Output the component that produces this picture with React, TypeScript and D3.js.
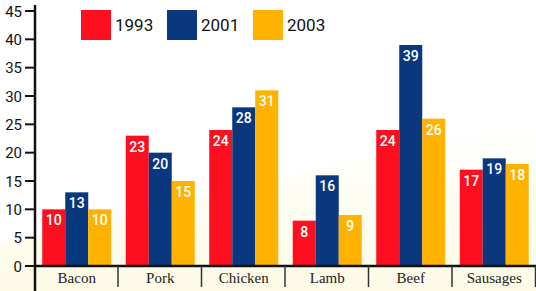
import React, { useEffect, useRef } from 'react';
import * as d3 from 'd3';

const categories = ['Bacon', 'Pork', 'Chicken', 'Lamb', 'Beef', 'Sausages'];
const seriesNames = ['1993', '2001', '2003'];
const values1993 = [10, 23, 24, 8, 24, 17];
const values2001 = [13, 20, 28, 16, 39, 19];
const values2003 = [10, 15, 31, 9, 26, 18];
const yTicks = [0, 5, 10, 15, 20, 25, 30, 35, 40, 45];
const colors = ['#fd0f20', '#0a387e', '#ffb300'];

const App = () => {
  const ref = useRef<SVGSVGElement>(null);

  useEffect(() => {
    const width = 536;
    const height = 291;
    const svg = d3.select(ref.current);
    svg.selectAll('*').remove();

    const series = [values1993, values2001, values2003];

    // background
    const defs = svg.append('defs');
    const grad = defs.append('linearGradient').attr('id', 'bg').attr('x1', 0).attr('y1', 0).attr('x2', 0).attr('y2', 1);
    grad.append('stop').attr('offset', '0%').attr('stop-color', '#ffffff');
    grad.append('stop').attr('offset', '100%').attr('stop-color', '#fdfbe6');
    svg.append('rect').attr('width', width).attr('height', height).attr('fill', '#ffffff');
    svg.append('path')
      .attr('d', `M0,${height} L0,245 Q220,190 ${width},120 L${width},${height} Z`)
      .attr('fill', 'url(#bg)');

    const x = d3.scaleBand().domain(categories).range([35, 536]).paddingInner(0).paddingOuter(0);
    const x1 = d3.scaleBand().domain(seriesNames).range([0, x.bandwidth()]).paddingInner(0).paddingOuter(0.315);
    const y = d3.scaleLinear().domain([0, 45]).range([266, 11]);

    // bars
    categories.forEach((c, i) => {
      series.forEach((vals, s) => {
        const v = vals[i];
        const bx = (x(c) as number) + (x1(seriesNames[s]) as number);
        svg.append('rect')
          .attr('x', bx)
          .attr('y', y(v))
          .attr('width', x1.bandwidth())
          .attr('height', y(0) - y(v))
          .attr('fill', colors[s]);
        svg.append('text')
          .attr('x', bx + x1.bandwidth() / 2)
          .attr('y', y(v) + 16)
          .attr('text-anchor', 'middle')
          .attr('fill', '#ffffff')
          .style('font-family', 'Roboto, sans-serif')
          .style('font-weight', '500')
          .style('font-size', '14px')
          .text(v);
      });
    });

    // y axis
    svg.append('line').attr('x1', 35).attr('x2', 35).attr('y1', 5).attr('y2', 291)
      .attr('stroke', '#111').attr('stroke-width', 2.5);
    yTicks.forEach(t => {
      svg.append('line').attr('x1', 25).attr('x2', 35).attr('y1', y(t)).attr('y2', y(t))
        .attr('stroke', '#111').attr('stroke-width', 2);
      svg.append('text')
        .attr('x', 22)
        .attr('y', y(t) + 5.5)
        .attr('text-anchor', 'end')
        .attr('fill', '#111')
        .style('font-family', 'Roboto, sans-serif')
        .style('font-size', '15px')
        .text(t);
    });

    // x axis
    svg.append('line').attr('x1', 35).attr('x2', 536).attr('y1', y(0)).attr('y2', y(0))
      .attr('stroke', '#111').attr('stroke-width', 2.5);
    categories.forEach(c => {
      const right = (x(c) as number) + x.bandwidth();
      svg.append('line').attr('x1', right - 0.5).attr('x2', right - 0.5).attr('y1', y(0)).attr('y2', 287)
        .attr('stroke', '#333').attr('stroke-width', 1.5);
      svg.append('text')
        .attr('x', (x(c) as number) + x.bandwidth() / 2)
        .attr('y', 283)
        .attr('text-anchor', 'middle')
        .attr('fill', '#222')
        .style('font-family', '"Liberation Serif", "Times New Roman", serif')
        .style('font-size', '15px')
        .text(c);
    });

    // legend
    seriesNames.forEach((name, s) => {
      const g = svg.append('g').attr('transform', `translate(${81 + s * 86},10)`);
      g.append('rect').attr('width', 30).attr('height', 30).attr('fill', colors[s]);
      g.append('text')
        .attr('x', 34)
        .attr('y', 21)
        .attr('fill', '#111')
        .style('font-family', 'Roboto, sans-serif')
        .style('font-size', '17px')
        .text(name);
    });
  }, []);

  return <svg ref={ref} width={536} height={291} style={{ position: 'absolute', left: 0, top: 0 }} />;
};

export default App;
